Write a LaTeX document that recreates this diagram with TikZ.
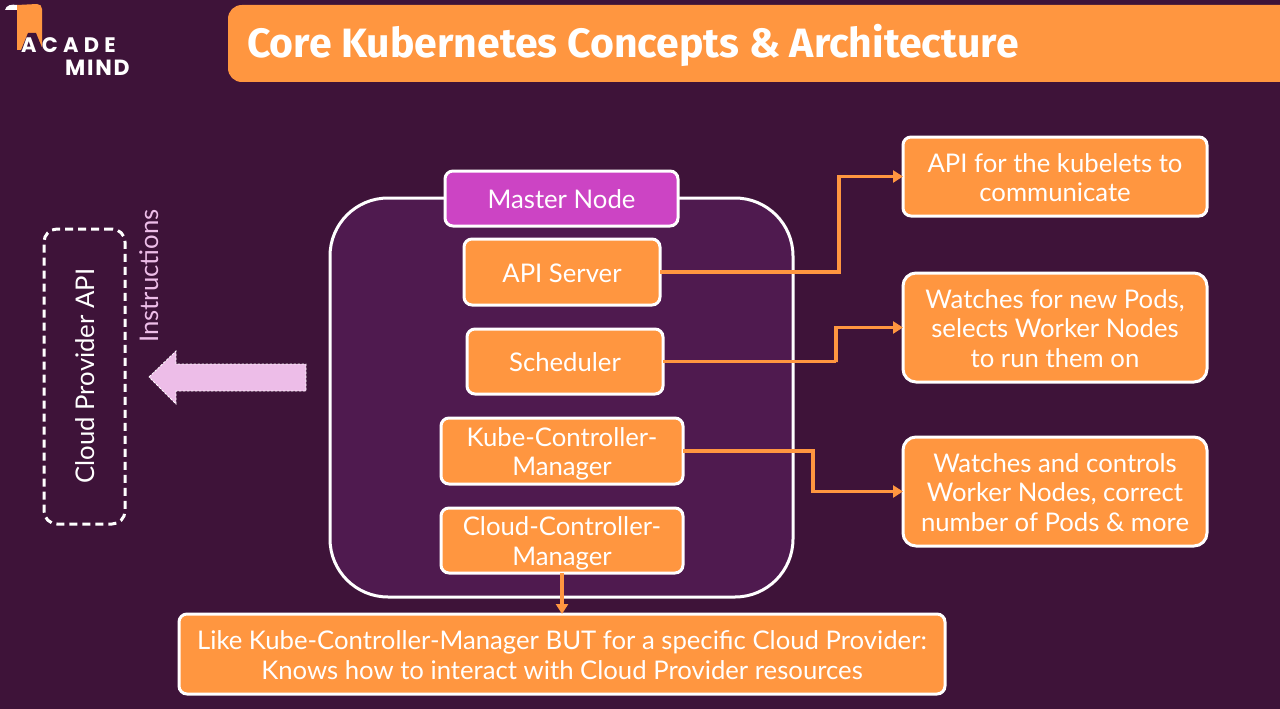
\documentclass[tikz,border=0pt]{standalone}
\usepackage{fontspec}
\setmainfont{Lato}
\newfontfamily\titlefont{Fira Sans}[UprightFont=* Bold]
\newfontfamily\logofonta{Poppins}[UprightFont=* Bold,LetterSpace=25]
\newfontfamily\logofontb{Poppins}[UprightFont=* Bold,LetterSpace=8]
\usetikzlibrary{arrows.meta}
\definecolor{bgdark}{HTML}{3E1339}
\definecolor{inner}{HTML}{4F1A4F}
\definecolor{orng}{HTML}{FF9640}
\definecolor{magen}{HTML}{CC44C4}
\definecolor{pinkish}{HTML}{EDBDE8}
\newcommand{\bx}[6]{\node[#1,minimum width=#4-#2,minimum height=#5-#3] (#6) at ({(#2+#4)/2},{(#3+#5)/2})}
\tikzset{
  box/.style={draw=white,line width=3,fill=orng,rounded corners=8,text=white,align=center,inner sep=0,outer sep=0,font=\fontsize{25.7}{29.6}\selectfont,execute at begin node={\rule{0pt}{#1}}},
  onebox/.style={box=20pt},
  lowbox/.style={box=54.5pt},
  twobox/.style={box=50.5pt},
  threebox/.style={box=80pt,rounded corners=13},
  magbox/.style={onebox,fill=magen},
  link/.style={draw=orng,line width=3.4,-{Triangle[length=10,width=12]}},
}
\begin{document}
\begin{tikzpicture}[x=1pt,y=-1pt]
\useasboundingbox (0,0) rectangle (1280,709);
\fill[bgdark] (0,0) rectangle (1280,709);
% logo
\fill[white] (5,10) .. controls (6,5) and (12,4) .. (17,5) -- (22,10) -- cycle;
\fill[orng] (17,5) -- (37,4) .. controls (40,4) and (42,6) .. (42,9) -- (42,50) -- (17,50) -- cycle;
\fill[bgdark] (19,55) -- (28,33) -- (36,33) -- (45,55) -- cycle;
\node[text=white,inner sep=0,anchor=west,font=\logofonta\fontsize{21}{21}\selectfont] (logoa) at (21,45) {ACADE};
\node[text=white,inner sep=0,anchor=west,font=\logofontb\fontsize{22}{22}\selectfont] (logob) at (65,68) {MIND};
% title
\fill[orng] (1290,5) -- (242,5) .. controls (234,5) and (228,11) .. (228,19) -- (228,68) .. controls (228,76) and (234,82) .. (242,82) -- (1290,82) -- cycle;
\node[text=white,inner sep=0,anchor=west,font=\titlefont\fontsize{41}{41}\selectfont] (title) at (247,45) {Core Kubernetes Concepts \& Architecture};
% master
\bx{draw=white,line width=3,fill=inner,rounded corners=58,inner sep=0}{330}{198}{793}{597}{master} {};
\bx{magbox}{445}{171}{678}{226}{mn} {Master Node};
\bx{box=22pt}{464}{239}{660}{305}{api} {API Server};
\bx{onebox}{467}{329}{663}{394}{sched} {Scheduler};
\bx{lowbox}{441}{418}{683}{484}{kcm} {Kube-Controller-\\Manager};
\bx{lowbox}{441}{508}{683}{573}{ccm} {Cloud-Controller-\\Manager};
\bx{twobox}{903}{137}{1207}{216}{r1} {API for the kubelets to\\communicate};
\bx{threebox}{903}{273}{1207}{382}{r2} {Watches for new Pods,\\selects Worker Nodes\\to run them on};
\bx{threebox}{903}{437}{1207}{546}{r3} {Watches and controls\\Worker Nodes, correct\\number of Pods \& more};
\bx{twobox}{179}{614}{945}{694}{bot} {Like Kube-Controller-Manager BUT for a specific Cloud Provider:\\Knows how to interact with Cloud Provider resources};
% cloud provider
\bx{draw=white,line width=3,dash pattern=on 8 off 5,rounded corners=13,inner sep=0}{44}{229}{125}{524}{cloud} {};
\node[rotate=90,text=white,inner sep=0,font=\fontsize{25.7}{29}\selectfont] (cloudt) at (85,376) {Cloud Provider API};
\node[rotate=90,text=pinkish,inner sep=0,font=\fontsize{25.7}{29}\selectfont] (instr) at (149,276) {Instructions};
\fill[pinkish,draw=white,line width=0.8,dash pattern=on 2.5 off 1.5] (149,377) -- (176,351) -- (176,364) -- (306,364) -- (306,391) -- (176,391) -- (176,404) -- cycle;
% connectors
\coordinate (c1) at (839,272);
\coordinate (c2) at (836,362);
\coordinate (c3) at (813,451);
\draw[link] (api.east) -| (c1) |- (r1.west);
\draw[link] (sched.east) -| (c2) |- (r2.west);
\draw[link] (kcm.east) -| (c3) |- (r3.west);
\draw[link] (ccm.south) -- (bot.north);
\end{tikzpicture}
\end{document}
